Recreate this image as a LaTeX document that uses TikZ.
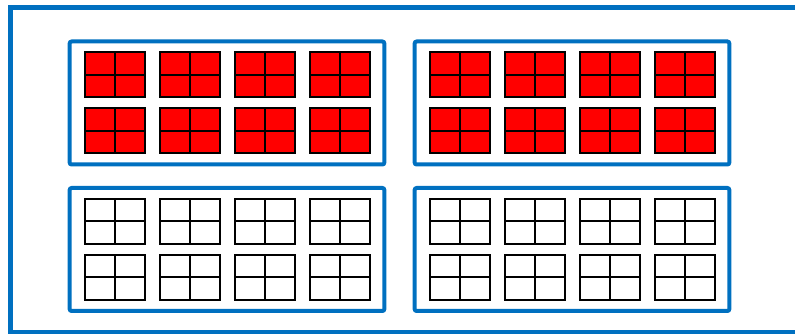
\documentclass[tikz,border=0pt]{standalone}
\usepackage{tikz}
\usetikzlibrary{positioning}
\definecolor{panelblue}{RGB}{0,112,192}

\begin{document}
\begin{tikzpicture}[x=0.75pt, y=-0.75pt,
    frame/.style={draw=panelblue, line width=3.4pt},
    panel/.style={rectangle, draw=panelblue, line width=3pt, rounded corners=1.5pt, minimum width=236pt, minimum height=92.25pt, inner sep=0pt},
    cell/.style={rectangle, draw, line width=1.5pt, fill=white, minimum width=45pt, minimum height=33.75pt, inner sep=0pt,
        path picture={\draw[line width=1.5pt] (path picture bounding box.north) -- (path picture bounding box.south)
            (path picture bounding box.west) -- (path picture bounding box.east);}},
    hot/.style={cell, fill=red},
    cool/.style={cell}]

    \useasboundingbox (0,0) rectangle (795,334);
    \draw [frame] (10.5,7.5) rectangle (815,332.5);

    \foreach \px/\py/\kind [count=\i] in {227/103/hot, 572/103/hot, 227/249.5/cool, 572/249.5/cool} {
        \node [panel] (panel\i) at (\px,\py) {};
        \foreach \dx [count=\c] in {-112.5,-37.5,37.5,112.5}
            \foreach \dy [count=\r] in {-28,28}
                \node [\kind] (blk\i-\r-\c) at (\px+\dx,\py+\dy) {};
    }
\end{tikzpicture}
\end{document}
